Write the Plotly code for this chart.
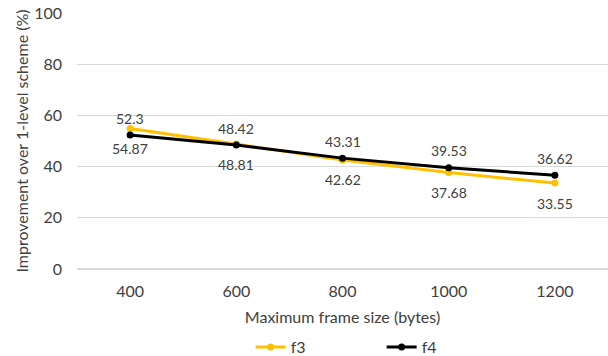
import plotly.graph_objects as go

# Maximum frame size categories (bytes)
frame_sizes = ["400", "600", "800", "1000", "1200"]

# Improvement over 1-level scheme (%)
f3_values = [54.87, 48.81, 42.62, 37.68, 33.55]
f4_values = [52.3, 48.42, 43.31, 39.53, 36.62]

y_ticks = [0, 20, 40, 60, 80, 100]

text_color = "#404040"
font_family = "Lato, 'Open Sans', sans-serif"

fig = go.Figure()

fig.add_trace(go.Scatter(
    x=frame_sizes, y=f3_values, name="f3",
    mode="lines+markers",
    line=dict(color="#FFC000", width=3),
    marker=dict(color="#FFC000", size=7),
    cliponaxis=False,
))

fig.add_trace(go.Scatter(
    x=frame_sizes, y=f4_values, name="f4",
    mode="lines+markers",
    line=dict(color="#000000", width=3),
    marker=dict(color="#000000", size=7),
    cliponaxis=False,
))

# value labels: f3 below its points, f4 above (x given as category index)
for vals, shift in ((f3_values, -20), (f4_values, 17)):
    for i, v in enumerate(vals):
        fig.add_annotation(
            x=i, y=v, xref="x", yref="y", text=f"{v:g}", showarrow=False,
            yshift=shift, xanchor="center", yanchor="middle",
            font=dict(size=14, color=text_color, family=font_family),
        )

fig.update_layout(
    width=608, height=356,
    margin=dict(l=77, r=0, t=13, b=87, autoexpand=False),
    paper_bgcolor="white", plot_bgcolor="white",
    font=dict(family=font_family, size=16, color=text_color),
    showlegend=True,
    legend=dict(
        orientation="h", x=0.327, xanchor="left",
        yref="container", y=0.025, yanchor="middle",
        font=dict(size=16, color=text_color),
        itemwidth=30, entrywidth=86, entrywidthmode="pixels",
    ),
    xaxis=dict(
        type="category",
        range=[-0.5, 4.5],
        showgrid=False, zeroline=False, showline=False,
        ticks="", ticklabelstandoff=11,
        tickfont=dict(size=16, color=text_color),
        title=dict(text="Maximum frame size (bytes)", standoff=12,
                   font=dict(size=16, color=text_color)),
    ),
    yaxis=dict(
        range=[0, 100],
        tickvals=y_ticks,
        showgrid=True, gridcolor="#D9D9D9", gridwidth=1,
        zeroline=True, zerolinecolor="#D9D9D9", zerolinewidth=1.5,
        showline=False, ticks="", ticklabelstandoff=14,
        tickfont=dict(size=16, color=text_color),
        title=dict(text="Improvement over 1-level scheme (%)", standoff=1,
                   font=dict(size=16, color=text_color)),
    ),
)

fig.write_html("out.html")
